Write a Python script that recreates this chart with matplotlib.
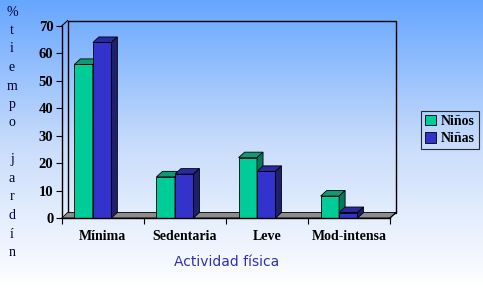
import numpy as np
import matplotlib
matplotlib.use("Agg")
import matplotlib.pyplot as plt
from matplotlib.patches import Polygon, Rectangle
from matplotlib.colors import LinearSegmentedColormap

categories = ["Mínima", "Sedentaria", "Leve", "Mod-intensa"]
ninos = [56, 15, 22, 8]
ninas = [64, 16, 17, 2]
series_names = ["Niños", "Niñas"]
yticks = [0, 10, 20, 30, 40, 50, 60, 70]
ylabel_text = "%tiempo jardín"
xlabel_text = "Actividad física"

W, H = 483, 288
fig = plt.figure(figsize=(W / 100, H / 100), dpi=100)

# background gradient
bg = fig.add_axes([0, 0, 1, 1], zorder=0)
cmap = LinearSegmentedColormap.from_list("bg", ["#66a6ff", "#c8dcfb", "#ffffff"])
grad = np.linspace(0, 1, 256).reshape(-1, 1)
bg.imshow(grad, aspect="auto", cmap=cmap, extent=[0, 1, 0, 1], origin="upper")
bg.set_axis_off()

x0, x1 = 61.7, 390.0
y0, y1 = 218.0, 26.0
ax = fig.add_axes([x0 / W, (H - y0) / H, (x1 - x0) / W, (y0 - y1) / H], zorder=1)
ax.set_xlim(0, 4)
ax.set_ylim(0, 70)
ax.patch.set_alpha(0)
for s in ax.spines.values():
    s.set_visible(False)

# depth offsets in data units (approx 6 px right, 5.5 px up)
DX = 6.0 / ((x1 - x0) / 4)
DY = 5.5 / ((y0 - y1) / 70)

# back wall
ax.add_patch(Rectangle((DX, DY), 4, 70, facecolor="none", edgecolor="black",
                       lw=1.0, clip_on=False, zorder=1))
# left diagonal connectors
ax.plot([0, DX], [70, 70 + DY], color="black", lw=0.8, clip_on=False, zorder=1)
# floor
ax.add_patch(Polygon([(0, 0), (4, 0), (4 + DX, DY), (DX, DY)], closed=True,
                     facecolor="#8c8c8c", edgecolor="black", lw=0.6,
                     clip_on=False, zorder=2))

bw = 0.225
start = 0.155
colors = [("#00cc99", "#0f9a74", "#007a5c"), ("#3333cc", "#2a2a9e", "#1f1f70")]
for si, vals in enumerate([ninos, ninas]):
    front, top, side = colors[si]
    lefts = [i + start + si * bw for i in range(len(categories))]
    ax.bar(lefts, vals, width=bw, align="edge", color=front, edgecolor="black",
           lw=0.6, zorder=3 + si, label=series_names[si], clip_on=False)
    for l, v in zip(lefts, vals):
        ax.add_patch(Polygon([(l, v), (l + bw, v), (l + bw + DX, v + DY), (l + DX, v + DY)],
                             closed=True, facecolor=top, edgecolor="black", lw=0.6,
                             zorder=3 + si, clip_on=False))
        ax.add_patch(Polygon([(l + bw, 0), (l + bw + DX, DY), (l + bw + DX, v + DY), (l + bw, v)],
                             closed=True, facecolor=side, edgecolor="black", lw=0.6,
                             zorder=3 + si, clip_on=False))

# front axes lines
ax.plot([0, 0], [0, 70], color="black", lw=1.0, clip_on=False, zorder=6)
ax.plot([0, 4], [0, 0], color="black", lw=1.0, clip_on=False, zorder=6)
ax.plot([4, 4 + DX], [0, DY], color="black", lw=0.8, clip_on=False, zorder=6)

ax.set_yticks(yticks)
ax.set_yticklabels([str(t) for t in yticks], fontfamily="Liberation Serif",
                   fontweight="bold", fontsize=10.5)
ax.set_xticks([0, 1, 2, 3, 4])
ax.set_xticklabels([])
ax.set_xticks([i + 0.5 for i in range(4)], minor=True)
ax.set_xticklabels(categories, minor=True, fontfamily="Liberation Serif",
                   fontweight="bold", fontsize=10)
ax.tick_params(axis="y", direction="out", length=4, width=0.8, pad=2)
ax.tick_params(axis="x", which="major", direction="out", length=4, width=0.8)
ax.tick_params(axis="x", which="minor", length=0, pad=9)

# vertical stacked y label
for k, ch in enumerate(ylabel_text):
    fig.text(12 / W, 1 - (12 + k * 18.5) / H, ch, ha="center", va="center",
             fontfamily="Liberation Serif", fontsize=10, color="#000033")

fig.text(227 / W, 1 - 262 / H, xlabel_text, ha="center", va="center",
         fontfamily="DejaVu Sans", fontsize=10, color="#3030b0")

leg = ax.legend(loc="center left", bbox_to_anchor=(421 / W, 1 - 130 / H),
                bbox_transform=fig.transFigure, frameon=True, fancybox=False,
                handlelength=0.8, handleheight=0.8, handletextpad=0.3,
                borderpad=0.3, labelspacing=0.3, borderaxespad=0,
                prop={"family": "Liberation Serif", "weight": "bold", "size": 10})
leg.get_frame().set_edgecolor("black")
leg.get_frame().set_linewidth(0.8)
leg.get_frame().set_facecolor("none")

fig.savefig("out.png", dpi=100)
